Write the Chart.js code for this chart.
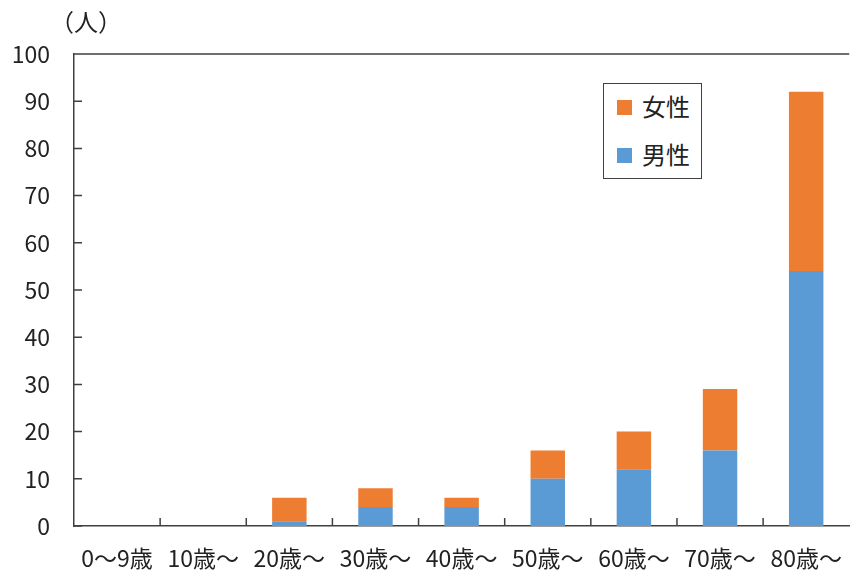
<!DOCTYPE html>
<html>
<head>
<meta charset="utf-8">
<script src="https://cdn.jsdelivr.net/npm/chart.js@4.4.0/dist/chart.umd.min.js"></script>
<style>
html,body{margin:0;padding:0;background:#fff;}
#wrap{position:relative;width:852px;height:578px;}
canvas{position:absolute;left:0;top:0;}
#unit{position:absolute;left:50px;top:3px;font:24px "Noto Sans CJK JP";color:#222;}
#legend{position:absolute;left:603px;top:83px;width:97px;height:94px;border:1.5px solid #404040;background:#fff;font:24px "Noto Sans CJK JP";color:#222;}
.li{position:absolute;left:13px;height:30px;line-height:30px;white-space:nowrap;}
.sw{display:inline-block;width:15px;height:15px;vertical-align:middle;margin-right:10px;position:relative;top:-2px;}
</style>
</head>
<body>
<div id="wrap">
<canvas id="c" width="852" height="578"></canvas>
<div id="unit">（人）</div>
<div id="legend"></div>
</div>
<script>
const categories = ["0〜9歳","10歳〜","20歳〜","30歳〜","40歳〜","50歳〜","60歳〜","70歳〜","80歳〜"];
const male   = [0, 0, 1, 4, 4, 10, 12, 16, 54];
const female = [0, 0, 5, 4, 2, 6, 8, 13, 38];
const seriesNames = ["男性","女性"];
const yTicks = [0,10,20,30,40,50,60,70,80,90,100];

const colors = {male:"#5B9BD5", female:"#ED7D31"};
const axisColor = "#404040";
const font = "Noto Sans CJK JP";

const frame = {
  id:'frame',
  afterDraw(chart){
    const {ctx, chartArea:a, scales} = chart;
    ctx.save();
    ctx.strokeStyle = axisColor;
    ctx.lineWidth = 1.5;
    ctx.beginPath();
    ctx.moveTo(a.left, a.top); ctx.lineTo(a.right, a.top);
    yTicks.forEach(v=>{ const y = scales.y.getPixelForValue(v); ctx.moveTo(a.left, y); ctx.lineTo(a.left+8, y); });
    for(let i=1;i<categories.length;i++){
      const x = (scales.x.getPixelForValue(i-1)+scales.x.getPixelForValue(i))/2;
      ctx.moveTo(x, a.bottom); ctx.lineTo(x, a.bottom-8);
    }
    ctx.stroke();
    ctx.restore();
  }
};

const chart = new Chart(document.getElementById('c'), {
  type:'bar',
  data:{
    labels:categories,
    datasets:[
      {label:seriesNames[0], data:male, backgroundColor:colors.male, categoryPercentage:1, barPercentage:0.4, stack:'s'},
      {label:seriesNames[1], data:female, backgroundColor:colors.female, categoryPercentage:1, barPercentage:0.4, stack:'s'}
    ]
  },
  options:{
    responsive:false,
    animation:false,
    layout:{padding:{top:54,right:1,left:0,bottom:0}},
    plugins:{legend:{display:false}, tooltip:{enabled:false}},
    scales:{
      x:{
        stacked:true,
        grid:{display:false},
        border:{display:true,color:axisColor,width:1.5},
        ticks:{color:"#222",font:{family:font,size:23},padding:10,maxRotation:0,autoSkip:false},
        afterFit(s){ s.height = 52; }
      },
      y:{
        stacked:true,
        min:0,max:100,
        afterBuildTicks(s){ s.ticks = yTicks.map(v=>({value:v})); },
        grid:{display:false},
        border:{display:true,color:axisColor,width:1.5},
        ticks:{color:"#222",font:{family:font,size:23},padding:16},
        afterFit(s){ s.width = 74; }
      }
    }
  },
  plugins:[frame]
});

const lg = document.getElementById('legend');
[[seriesNames[1],colors.female,7],[seriesNames[0],colors.male,55]].forEach(([n,c,t])=>{
  const d=document.createElement('div'); d.className='li'; d.style.top=t+'px';
  d.innerHTML='<span class="sw" style="background:'+c+'"></span>'+n;
  lg.appendChild(d);
});
</script>
</body>
</html>
